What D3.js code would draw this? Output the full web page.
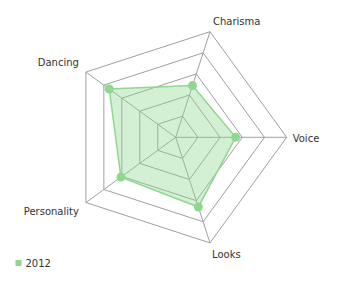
<!DOCTYPE html>
<html><head><meta charset="utf-8">
<script src="https://cdn.jsdelivr.net/npm/d3@7"></script>
<style>
body{margin:0;background:#fff;}
svg{display:block;font-family:"DejaVu Sans",Verdana,sans-serif;}
</style></head>
<body><svg id="chart" width="340" height="295"></svg>
<script>
const categories = ["Charisma", "Voice", "Looks", "Personality", "Dancing"];
const values2012 = [49, 54, 66, 61, 74];
const seriesName = "2012";
const ringTicks = [20, 40, 60, 80, 100];

const svg = d3.select("#chart");
const cx = 175.7, cy = 137.3, R = 111;
const r = d3.scaleLinear().domain([0, 100]).range([0, R]);
const ang = d3.scaleLinear().domain([0, categories.length]).range([-72, 288]);
const pt = (i, v) => {
  const a = ang(i) * Math.PI / 180;
  return [cx + r(v) * Math.cos(a), cy + r(v) * Math.sin(a)];
};

const g = svg.append("g");
// rings
ringTicks.forEach(t => {
  g.append("polygon")
    .attr("points", categories.map((c, i) => pt(i, t).join(",")).join(" "))
    .attr("fill", "none").attr("stroke", "#a0a0a0").attr("stroke-width", 1);
});
// spokes
categories.forEach((c, i) => {
  const p = pt(i, 100);
  g.append("line").attr("x1", cx).attr("y1", cy).attr("x2", p[0]).attr("y2", p[1])
    .attr("stroke", "#a0a0a0").attr("stroke-width", 1);
});
// area
const line = d3.line().curve(d3.curveLinearClosed);
g.append("path")
  .attr("d", line(values2012.map((v, i) => pt(i, v))))
  .attr("fill", "#8fd88f").attr("fill-opacity", 0.38)
  .attr("stroke", "#8fd88f").attr("stroke-width", 1.5);
g.selectAll("circle.pt").data(values2012).enter().append("circle")
  .attr("cx", (v, i) => pt(i, v)[0]).attr("cy", (v, i) => pt(i, v)[1])
  .attr("r", 4.5).attr("fill", "#8fd88f");

// labels
const labelOffsets = [[3, -7, "start"], [6, 5, "start"], [2, 15, "start"], [-7, 12, "end"], [-7, -6, "end"]];
categories.forEach((c, i) => {
  const p = pt(i, 100);
  const o = labelOffsets[i];
  svg.append("text").attr("x", p[0] + o[0]).attr("y", p[1] + o[1])
    .attr("text-anchor", o[2]).attr("font-size", 10).attr("fill", "#333")
    .text(c);
});

// legend
const leg = svg.append("g");
leg.append("rect").attr("x", 15.5).attr("y", 260).attr("width", 6).attr("height", 6).attr("fill", "#8fd88f");
leg.append("text").attr("x", 25.5).attr("y", 267).attr("font-size", 10).attr("fill", "#333").text(seriesName);
</script></body></html>
